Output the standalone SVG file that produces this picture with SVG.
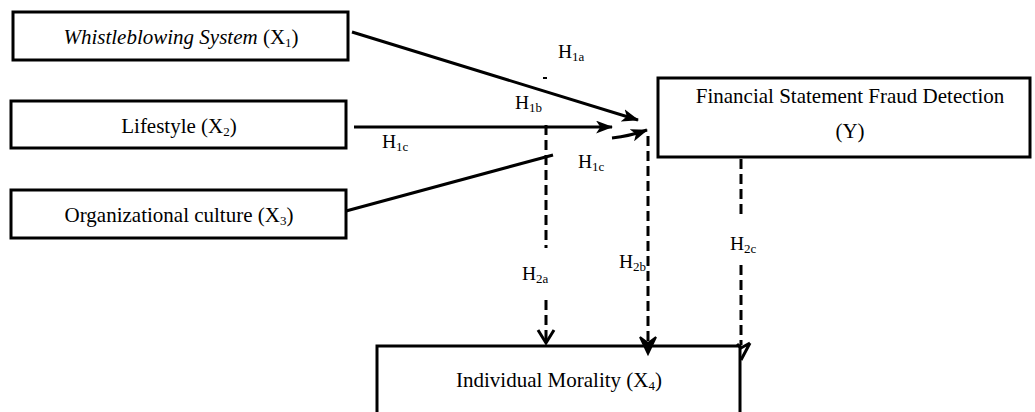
<svg xmlns="http://www.w3.org/2000/svg" width="1035" height="412" viewBox="0 0 1035 412">
<defs>
<marker id="ah" viewBox="0 0 16 12" refX="15" refY="6" markerWidth="17" markerHeight="13" markerUnits="userSpaceOnUse" orient="auto">
<path d="M0,0 L16,6 L0,12 L4,6 Z" fill="#000"/>
</marker>
</defs>
<style>
.box{fill:#fff;stroke:#000;stroke-width:3}
text{font-family:'Liberation Serif','DejaVu Serif',serif;fill:#000}
.t{font-size:21px}
.h{font-size:19.5px}
.s{font-size:13px}
.ln{stroke:#000;stroke-width:3;fill:none}
.ds{stroke:#000;stroke-width:3;fill:none;stroke-dasharray:10,5}
</style>
<g id="node-x1">
<rect class="box" x="13" y="12" width="335" height="48"/>
<text class="t" x="181" y="44" text-anchor="middle" font-family="Liberation Serif, serif"><tspan font-style="italic">Whistleblowing System</tspan> (X<tspan class="s" dy="3">1</tspan><tspan dy="-3">)</tspan></text>
</g>
<g id="node-x2">
<rect class="box" x="11" y="101" width="335" height="47"/>
<text class="t" x="179" y="133" text-anchor="middle" font-family="Liberation Serif, serif">Lifestyle (X<tspan class="s" dy="3">2</tspan><tspan dy="-3">)</tspan></text>
</g>
<g id="node-x3">
<rect class="box" x="11" y="190" width="335" height="48"/>
<text class="t" x="179" y="222" text-anchor="middle" font-family="Liberation Serif, serif">Organizational culture (X<tspan class="s" dy="3">3</tspan><tspan dy="-3">)</tspan></text>
</g>
<g id="node-y">
<rect class="box" x="658" y="78" width="372" height="79"/>
<text class="t" x="850" y="103" text-anchor="middle" font-family="Liberation Serif, serif">Financial Statement Fraud Detection</text>
<text class="t" x="850" y="138" text-anchor="middle" font-family="Liberation Serif, serif">(Y)</text>
</g>
<g id="node-x4">
<rect class="box" x="377" y="346" width="363" height="80"/>
<text class="t" x="559" y="387" text-anchor="middle" font-family="Liberation Serif, serif">Individual Morality (X<tspan class="s" dy="3">4</tspan><tspan dy="-3">)</tspan></text>
</g>
<g id="connectors">
<line class="ln" x1="352" y1="32" x2="638" y2="120" marker-end="url(#ah)"/>
<line class="ln" x1="354" y1="127" x2="612" y2="127" marker-end="url(#ah)"/>
<path class="ln" d="M612,138 Q630,136 647,130" marker-end="url(#ah)"/>
<line class="ln" x1="346" y1="211" x2="553" y2="155"/>
<line stroke="#000" stroke-width="2" x1="543" y1="78" x2="547" y2="78"/>
<line class="ds" x1="546" y1="125" x2="546" y2="248"/>
<line class="ds" x1="546" y1="300" x2="546" y2="342"/>
<path class="ln" d="M538,330 L546,343 L554,330"/>
<line class="ds" x1="648" y1="136" x2="648" y2="345"/>
<path d="M640,337 L648,354 L656,337 L648,343 Z" fill="#000" stroke="#000" stroke-width="2"/>
<line class="ds" x1="741" y1="159" x2="741" y2="217"/>
<line class="ds" x1="741" y1="265" x2="741" y2="345"/>
<path class="ln" d="M737,344 L741,348 L750,343 M750,343 L741,360"/>
</g>
<g id="labels">
<text class="h" x="558" y="58" font-family="Liberation Serif, serif">H<tspan class="s" dy="3">1a</tspan></text>
<text class="h" x="515" y="109" font-family="Liberation Serif, serif">H<tspan class="s" dy="3">1b</tspan></text>
<text class="h" x="382" y="148" font-family="Liberation Serif, serif">H<tspan class="s" dy="3">1c</tspan></text>
<text class="h" x="578" y="168" font-family="Liberation Serif, serif">H<tspan class="s" dy="3">1c</tspan></text>
<text class="h" x="522" y="280" font-family="Liberation Serif, serif">H<tspan class="s" dy="3">2a</tspan></text>
<text class="h" x="619" y="268" font-family="Liberation Serif, serif">H<tspan class="s" dy="3">2b</tspan></text>
<text class="h" x="730" y="250" font-family="Liberation Serif, serif">H<tspan class="s" dy="3">2c</tspan></text>
</g>
</svg>
